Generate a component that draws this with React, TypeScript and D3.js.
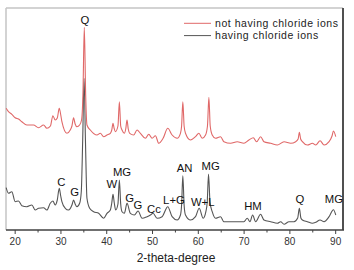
import React from "react";
import * as d3 from "d3";

// 2-theta (degree) and intensity (a.u., stacked as plotted)
const redTheta = [18.03,18.54,19.27,20.0,20.73,21.46,22.55,24.01,25.11,26.2,26.93,27.7,28.24,28.75,29.2,29.63,30.0,30.21,31.31,32.03,32.4,32.76,33.1,33.49,34.08,34.5,34.8,35.1,35.4,35.68,36.41,37.87,38.6,39.33,40.06,40.79,41.1,41.37,41.6,41.88,42.45,42.76,43.05,43.34,43.85,44.15,44.43,44.7,45.02,45.89,46.62,47.35,48.45,49.18,49.91,50.63,51.36,52.31,53.33,54.28,55.38,56.1,56.35,56.62,56.9,57.2,58.29,59.39,60.12,60.85,61.58,62.0,62.31,62.6,63.04,63.76,64.86,65.59,67.05,68.5,69.96,71.06,72.01,72.73,73.61,74.34,75.8,77.26,78.72,80.18,81.27,81.8,82.07,82.35,82.73,83.82,84.92,85.65,86.59,87.47,88.56,89.2,89.51,90.02];
const redValue = [121.7,118.3,115.7,112.3,111,108.3,105,105,102.3,105,101.7,104,114.3,110,112,121.7,114,108.3,96.7,100,104,112.3,106,103.3,105,110,135,202.7,135,105,100,95,96.7,93.3,95,96.7,100,106.7,102,98.3,104,128.3,104,100,96.7,101,110,101,96.7,95,100,96.7,91.7,95.7,91.7,94.3,86.7,91.7,101.7,95,91.7,96.7,104,128.3,104,96.7,90,93.3,96.7,91.7,95,104,132.7,104,95,91.7,93.3,88.3,86.7,88.3,86.7,90,92.3,88.3,93.3,88.3,86.7,85,88.3,86.7,88.3,91,97.7,91,88.3,85,86.7,85,89.3,85,88.3,94,99,93.3];

const grayTheta = [18.03,18.54,19.27,20.0,20.73,21.46,22.55,23.65,24.38,25.11,26.2,26.93,27.66,28.24,28.75,29.2,29.63,29.95,30.21,30.94,31.67,32.4,32.76,33.1,33.49,34.08,34.44,34.75,35.05,35.35,35.68,36.27,37.14,38.24,39.33,40.06,40.79,41.1,41.37,41.65,41.95,42.45,42.76,43.05,43.34,43.85,44.43,45.16,46.04,46.84,47.72,48.81,49.54,50.12,51.0,52.09,53.33,54.28,55.38,56.1,56.35,56.62,56.9,57.2,58.29,59.39,60.19,61.07,61.65,61.95,62.23,62.55,63.04,63.76,64.86,65.59,67.05,68.5,69.96,70.69,71.28,71.86,72.52,73.61,74.34,75.8,77.26,77.99,78.72,79.81,80.9,81.7,82.07,82.4,82.73,83.82,84.92,85.65,86.59,87.47,88.56,89.51,90.02];
const grayValue = [42.3,36.7,38.3,28.3,29,24.3,23.3,25,20,21.7,22.3,20,26.7,29,25,30,41.7,34,28.3,21.7,20,25,30,26,23.3,26.7,38.3,90,151.7,90,31.7,21.7,18.3,16.7,11.7,16.7,20,27,35.7,27,20,26,50,26,18.3,16.7,26.7,16.7,15,19,11.7,13.3,15,16.7,11.7,13.3,23.3,13.3,10,15,25,54.3,25,15,10,13.3,21.7,11.7,18.3,28,56,28,18.3,11.7,13.3,8.3,8.3,8.3,8.3,11.7,8.3,15,8.3,15.7,10,8.3,6.7,8.3,5.7,8.3,8.3,12,21.7,12,10,8.3,6.7,7.7,10,8.3,13.3,20.3,15];

const labelText = ["Q","C","G","W","MG","G","G","Cc","L+G","AN","W+L","MG","HM","Q","MG"];
const labelTheta = [35.25,30.07,33.0,41.14,43.33,45.0,46.82,50.31,54.68,57.02,60.95,62.7,71.93,82.2,89.6];
const labelValue = [206.5,44.5,34.5,42.2,54.5,28.2,21.2,17.2,26.2,58.5,24.5,60.5,20.5,27.2,27.2];

const majorTicks = [20,30,40,50,60,70,80,90];
const minorTicks = [25,35,45,55,65,75,85];
const seriesNames = ["not having chloride ions","having chloride ions"];
const seriesColors = ["#e06868","#555555"];

const W = 354, H = 270;
const left = 6, right = 343, top = 8, bottom = 230;

export default function App() {
  const x = d3.scaleLinear().domain([18, 91.6]).range([left, right]);
  const y = d3.scaleLinear().domain([0, 222]).range([bottom, top]);
  const line = d3.line<[number, number]>().x(d => x(d[0])).y(d => y(d[1])).curve(d3.curveMonotoneX);
  const red = redTheta.map((t, i) => [t, redValue[i]] as [number, number]);
  const gray = grayTheta.map((t, i) => [t, grayValue[i]] as [number, number]);
  const font = "'Liberation Sans', Arial, sans-serif";
  return (
    <svg width={W} height={H} style={{ position: "absolute", left: 0, top: 0, background: "#fff" }} fontFamily={font}>
      <rect x={0} y={0} width={W} height={H} fill="#fff" />
      <g>
        <line x1={left} x2={right} y1={top} y2={top} stroke="#c4c4c4" strokeWidth={1.5} />
        <line x1={left} x2={left} y1={top} y2={bottom} stroke="#c4c4c4" strokeWidth={1.5} />
        <line x1={right} x2={right} y1={top} y2={bottom} stroke="#505050" strokeWidth={2} />
      </g>
      <path d={line(gray) || ""} fill="none" stroke={seriesColors[1]} strokeWidth={1.1} />
      <path d={line(red) || ""} fill="none" stroke={seriesColors[0]} strokeWidth={1.1} />
      <line x1={left} x2={right + 1} y1={bottom} y2={bottom} stroke="#404040" strokeWidth={1.5} />
      {majorTicks.map(t => (
        <g key={t}>
          <line x1={x(t)} x2={x(t)} y1={bottom} y2={bottom + 4} stroke="#404040" strokeWidth={1} />
          <text x={x(t)} y={245} fontSize={10} textAnchor="middle" fill="#333">{t}</text>
        </g>
      ))}
      {minorTicks.map(t => (
        <line key={t} x1={x(t)} x2={x(t)} y1={bottom} y2={bottom + 2.5} stroke="#404040" strokeWidth={1} />
      ))}
      <text x={176} y={262} fontSize={12} textAnchor="middle" fill="#222">2-theta-degree</text>
      {labelText.map((s, i) => (
        <text key={i} x={x(labelTheta[i])} y={y(labelValue[i])} fontSize={11.3} textAnchor="middle" fill="#111">{s}</text>
      ))}
      {seriesNames.map((n, i) => (
        <g key={n}>
          <line x1={184} x2={211} y1={23.3 + i * 12.3} y2={23.3 + i * 12.3} stroke={seriesColors[i]} strokeWidth={1} />
          <text x={215} y={27 + i * 12.3} fontSize={10.5} letterSpacing={0.55} fill="#222">{n}</text>
        </g>
      ))}
    </svg>
  );
}
